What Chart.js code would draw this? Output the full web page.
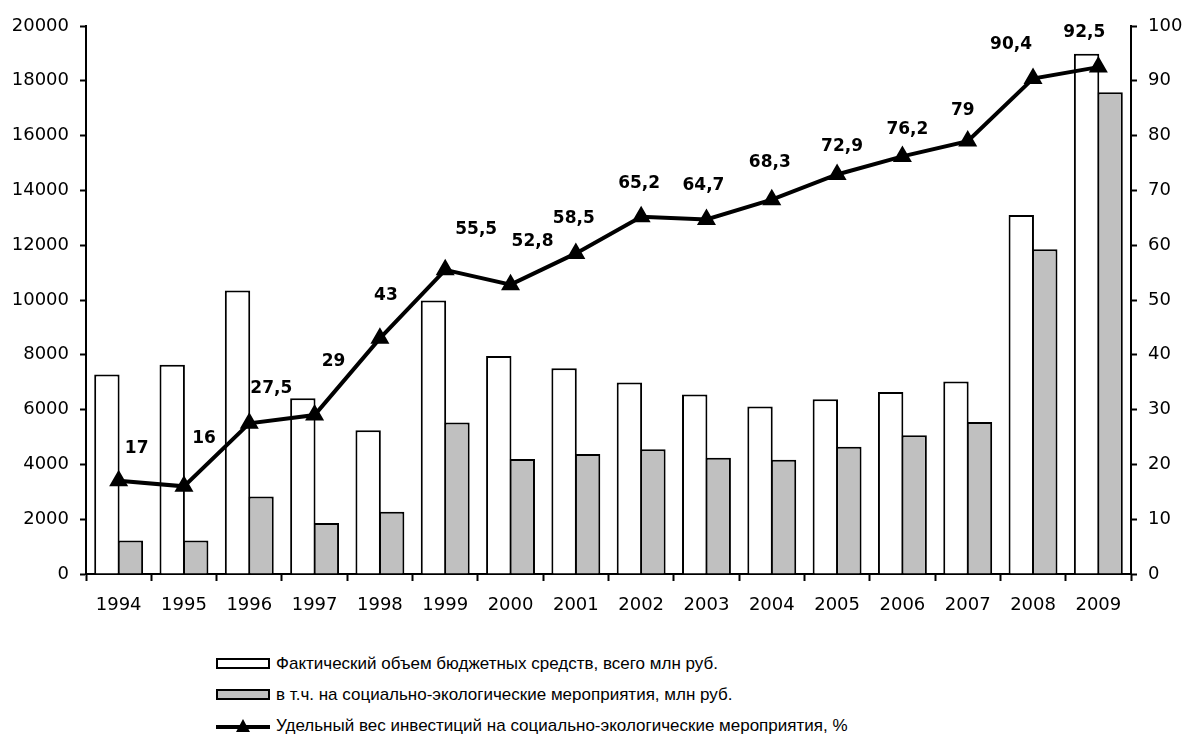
<!DOCTYPE html>
<html lang="ru">
<head>
<meta charset="utf-8">
<title>Бюджетные средства на социально-экологические мероприятия</title>
<script src="https://cdn.jsdelivr.net/npm/chart.js@4.4.1/dist/chart.umd.min.js"></script>
<style>
body {
  margin: 0;
  background: #fff;
  font-family: "DejaVu Sans", sans-serif;
}
.wrap {
  position: relative;
  width: 1184px;
  height: 740px;
}
.chart-box {
  position: absolute;
  left: 0;
  top: 0;
  width: 1184px;
  height: 640px;
}
.legend {
  position: absolute;
  left: 216px;
  top: 648px;
}
.legend-row {
  display: flex;
  align-items: center;
  height: 31px;
  font-family: "Liberation Sans", Arial, sans-serif;
  font-size: 17px;
  color: #000;
  white-space: nowrap;
}
.swatch {
  box-sizing: border-box;
  width: 54px;
  height: 11px;
  border: 2px solid #000;
  margin-right: 6px;
}
.line-swatch {
  position: relative;
  width: 54px;
  height: 14px;
  margin-right: 6px;
}
.line-swatch .bar {
  position: absolute;
  left: 0;
  top: 6px;
  width: 54px;
  height: 4px;
  background: #000;
}
.line-swatch .tri {
  position: absolute;
  left: 20px;
  top: 0;
  width: 0;
  height: 0;
  border-left: 7px solid transparent;
  border-right: 7px solid transparent;
  border-bottom: 13px solid #000;
}
</style>
</head>
<body>
<div class="wrap">
  <div class="chart-box"><canvas id="investChart"></canvas></div>
  <div class="legend" id="legend"></div>
</div>
<script>
const years = ["1994", "1995", "1996", "1997", "1998", "1999", "2000", "2001", "2002", "2003", "2004", "2005", "2006", "2007", "2008", "2009"];
const totalBudget = [7280, 7640, 10350, 6410, 5250, 9980, 7960, 7510, 6990, 6550, 6110, 6380, 6640, 7030, 13100, 18990];
const socialEco = [1220, 1220, 2830, 1860, 2270, 5530, 4200, 4380, 4550, 4240, 4170, 4640, 5060, 5550, 11850, 17580];
const sharePercent = [17, 16, 27.5, 29, 43, 55.5, 52.8, 58.5, 65.2, 64.7, 68.3, 72.9, 76.2, 79, 90.4, 92.5];
const leftTicks = { min: 0, max: 20000, step: 2000 };
const rightTicks = { min: 0, max: 100, step: 10 };
const seriesNames = [
  "Фактический объем бюджетных средств, всего млн руб.",
  "в т.ч. на социально-экологические мероприятия, млн руб.",
  "Удельный вес инвестиций на социально-экологические мероприятия, %"
];

// label nudges (px) relative to each point, like hand-placed labels in the original
const labelNudge = [
  [18, -32], [20, -48], [22, -35], [19, -54], [6, -43], [31, -40], [22, -43], [-2, -35],
  [-2, -33], [-3, -34], [-2, -37], [5, -28], [5, -27], [-5, -31], [-22, -34], [-14, -35]
];

const FONT = "'DejaVu Sans', sans-serif";

function formatComma(value) {
  return String(value).replace(".", ",");
}

const pointLabels = {
  id: "pointLabels",
  afterDatasetsDraw(chart) {
    const meta = chart.getDatasetMeta(2);
    const ctx = chart.ctx;
    ctx.save();
    ctx.font = "bold 17px " + FONT;
    ctx.fillStyle = "#000";
    ctx.textAlign = "center";
    ctx.textBaseline = "middle";
    meta.data.forEach((pt, i) => {
      const nudge = labelNudge[i] || [0, -35];
      ctx.fillText(formatComma(sharePercent[i]), pt.x + nudge[0], pt.y + nudge[1]);
    });
    ctx.restore();
  }
};

const tickGrid = {
  drawOnChartArea: false,
  drawTicks: true,
  tickLength: 6,
  tickColor: "#000",
  tickWidth: 2
};

new Chart(document.getElementById("investChart"), {
  type: "bar",
  data: {
    labels: years,
    datasets: [
      {
        label: seriesNames[0],
        data: totalBudget,
        backgroundColor: "#ffffff",
        borderColor: "#000000",
        borderWidth: 2,
        yAxisID: "y",
        order: 2
      },
      {
        label: seriesNames[1],
        data: socialEco,
        backgroundColor: "#c0c0c0",
        borderColor: "#000000",
        borderWidth: 2,
        yAxisID: "y",
        order: 2
      },
      {
        type: "line",
        label: seriesNames[2],
        data: sharePercent,
        borderColor: "#000000",
        borderWidth: 4,
        backgroundColor: "#000000",
        pointStyle: "triangle",
        pointRadius: 7,
        pointBackgroundColor: "#000000",
        pointBorderColor: "#000000",
        tension: 0,
        yAxisID: "y1",
        order: 0
      }
    ]
  },
  options: {
    responsive: true,
    maintainAspectRatio: false,
    animation: false,
    layout: {
      padding: { top: 26, left: 0, right: 0, bottom: 0 }
    },
    datasets: {
      bar: {
        // slight overlap so the two bars share one border line
        categoryPercentage: 0.72,
        barPercentage: 1.08
      }
    },
    plugins: {
      legend: { display: false },
      tooltip: { enabled: false }
    },
    scales: {
      x: {
        offset: true,
        grid: {
          offset: true,
          drawOnChartArea: false,
          drawTicks: true,
          tickLength: 7,
          tickColor: "#000",
          tickWidth: 2
        },
        border: { display: true, color: "#000", width: 2 },
        ticks: {
          color: "#000",
          font: { family: FONT, size: 18 },
          padding: 14,
          maxRotation: 0
        },
        afterFit: scale => {
          scale.height = 66;
        }
      },
      y: {
        position: "left",
        min: leftTicks.min,
        max: leftTicks.max,
        grid: tickGrid,
        border: { display: true, color: "#000", width: 2 },
        ticks: {
          stepSize: leftTicks.step,
          color: "#000",
          font: { family: FONT, size: 18 },
          padding: 11,
          callback: value => String(value)
        },
        afterFit: scale => {
          scale.width = 86;
        }
      },
      y1: {
        position: "right",
        min: rightTicks.min,
        max: rightTicks.max,
        grid: tickGrid,
        border: { display: true, color: "#000", width: 2 },
        ticks: {
          stepSize: rightTicks.step,
          color: "#000",
          font: { family: FONT, size: 18 },
          padding: 11,
          callback: value => String(value)
        },
        afterFit: scale => {
          scale.width = 53;
        }
      }
    }
  },
  plugins: [pointLabels]
});

function buildLegend() {
  const legend = document.getElementById("legend");
  const fills = ["#ffffff", "#c0c0c0"];
  for (let i = 0; i < seriesNames.length; i++) {
    const row = document.createElement("div");
    row.className = "legend-row";
    if (i < 2) {
      const sw = document.createElement("div");
      sw.className = "swatch";
      sw.style.background = fills[i];
      row.appendChild(sw);
    } else {
      const sw = document.createElement("div");
      sw.className = "line-swatch";
      sw.innerHTML = '<div class="bar"></div><div class="tri"></div>';
      row.appendChild(sw);
    }
    const text = document.createElement("span");
    text.textContent = seriesNames[i];
    row.appendChild(text);
    legend.appendChild(row);
  }
}

buildLegend();
</script>
</body>
</html>
